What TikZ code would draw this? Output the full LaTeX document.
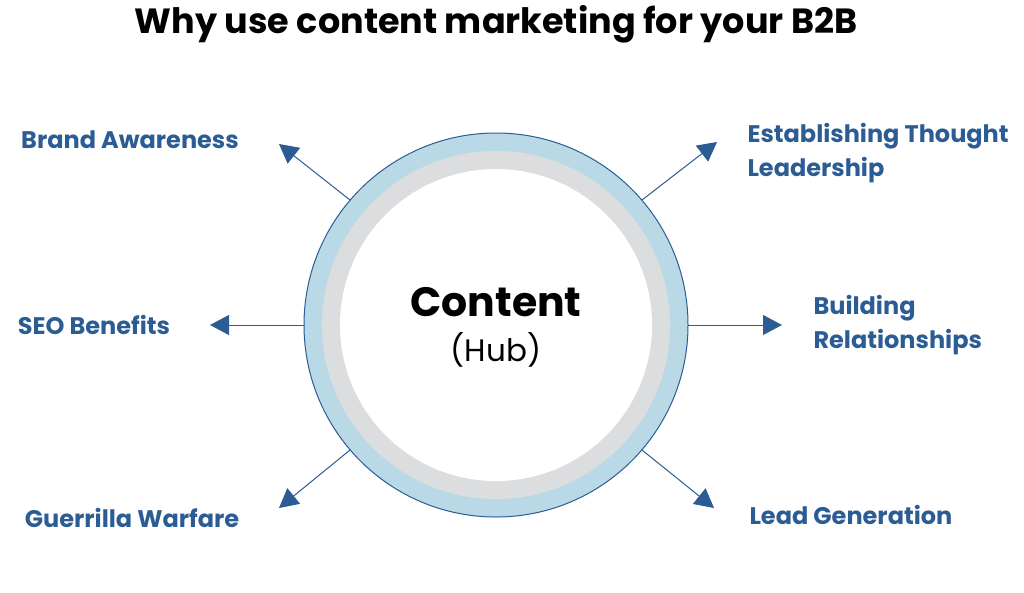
\documentclass[tikz,border=0pt]{standalone}
\usepackage{fontspec}
\setmainfont{Poppins}
\usetikzlibrary{arrows.meta}
\definecolor{hubblue}{HTML}{2B5C94}
\definecolor{ringblue}{HTML}{B9D9E6}
\definecolor{ringgray}{HTML}{DCDDDF}
\tikzset{
  lbl/.style={text=hubblue,font=\fontsize{24}{34}\selectfont\bfseries},
  spoke/.style={draw=hubblue,line width=1pt,-{Triangle[length=19pt,width=20pt]}}
}
\begin{document}
\begin{tikzpicture}[x=1pt,y=-1pt]
\useasboundingbox (0,0) rectangle (1024,592);
\node (title) at (496,24) {\fontsize{35}{40}\selectfont\bfseries Why use content marketing for your B2B};
% hub
\coordinate (c) at (496,325);
\fill[ringblue,draw=hubblue,line width=1pt] (c) circle (192);
\fill[ringgray] (c) circle (174);
\fill[white] (c) circle (156);
\node (hub) at (496,302) {\fontsize{41}{46}\selectfont\bfseries Content};
\node (sub) at (496,350) {\fontsize{31}{36}\selectfont (Hub)};
% spokes
\coordinate (nw) at (350,200);
\coordinate (ne) at (642,200);
\coordinate (w) at (304,325);
\coordinate (e) at (688,325);
\coordinate (sw) at (350,450);
\coordinate (se) at (642,450);
\coordinate (tnw) at (279,144);
\coordinate (tne) at (717,142);
\coordinate (tw) at (210,325);
\coordinate (te) at (782,325);
\coordinate (tsw) at (279,508);
\coordinate (tse) at (714,508);
\draw[spoke] (nw) -- (tnw);
\draw[spoke] (ne) -- (tne);
\draw[spoke] (w) -- (tw);
\draw[spoke] (e) -- (te);
\draw[spoke] (sw) -- (tsw);
\draw[spoke] (se) -- (tse);
% labels
\node[lbl] (brand) at (130,140) {Brand Awareness};
\node[lbl,anchor=west,align=left] (lead1) at (744,153) {Establishing Thought\\Leadership};
\node[lbl] (seo) at (94,325) {SEO Benefits};
\node[lbl,anchor=west,align=left] (rel) at (810,325) {Building\\Relationships};
\node[lbl] (guer) at (132,518) {Guerrilla Warfare};
\node[lbl,anchor=west] (gen) at (746,515) {Lead Generation};
\end{tikzpicture}
\end{document}
